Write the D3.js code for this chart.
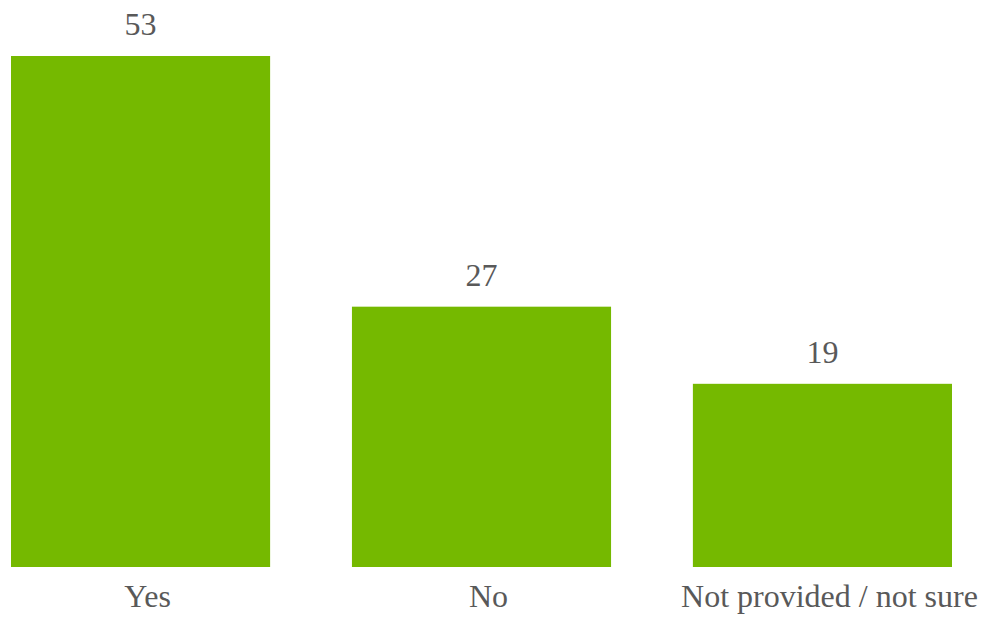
<!DOCTYPE html>
<html>
<head>
<meta charset="utf-8">
<script src="https://cdn.jsdelivr.net/npm/d3@7/dist/d3.min.js"></script>
<style>
  html, body { margin: 0; padding: 0; background: #ffffff; }
  svg { display: block; }
  text { font-family: "Liberation Serif", "Times New Roman", serif; fill: #595959; }
</style>
</head>
<body>
<svg id="chart" width="983" height="620"></svg>
<script>
// Survey answers and their counts
const categories = ["Yes", "No", "Not provided / not sure"];
const values = [53, 27, 19];

const width = 983, height = 620;
const svg = d3.select("#chart");

const x = d3.scaleBand()
  .domain(categories)
  .range([11, 952])
  .paddingInner(0.24)
  .paddingOuter(0);

const y = d3.scaleLinear()
  .domain([0, 53])
  .range([567, 56]);

const data = categories.map((c, i) => ({ category: c, value: values[i] }));

// Bars
svg.append("g")
  .selectAll("rect")
  .data(data)
  .join("rect")
  .attr("x", d => x(d.category))
  .attr("y", d => y(d.value))
  .attr("width", x.bandwidth())
  .attr("height", d => y(0) - y(d.value))
  .attr("fill", "#75b900");

// Value labels above bars
svg.append("g")
  .selectAll("text")
  .data(data)
  .join("text")
  .attr("x", d => x(d.category) + x.bandwidth() / 2)
  .attr("y", d => y(d.value) - 21)
  .attr("text-anchor", "middle")
  .style("font-size", "32px")
  .text(d => d.value);

// Category axis (no line, no ticks)
const xAxis = svg.append("g")
  .attr("transform", `translate(0, ${y(0)})`)
  .call(d3.axisBottom(x).tickSize(0).tickPadding(0));
xAxis.select(".domain").remove();
xAxis.selectAll("text")
  .attr("dy", null)
  .attr("y", 40)
  .attr("dx", 7)
  .attr("fill", "#595959")
  .style("font-family", "\"Liberation Serif\", \"Times New Roman\", serif")
  .style("font-size", "32px");
</script>
</body>
</html>
